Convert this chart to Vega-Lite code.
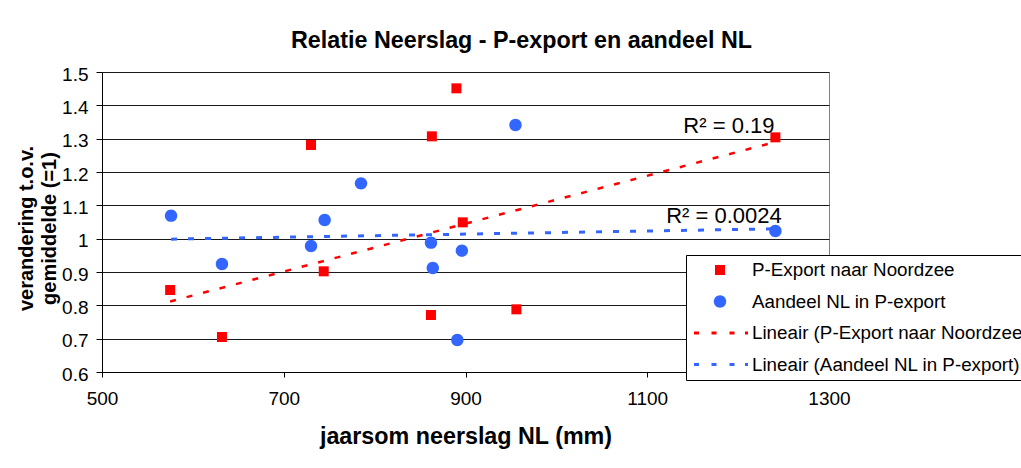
{
  "$schema": "https://vega.github.io/schema/vega-lite/v6.json",
  "width": 727,
  "height": 300,
  "autosize": {"type": "none"},
  "padding": {"left": 102, "top": 72, "right": 192, "bottom": 96},
  "background": "white",
  "config": {
    "font": "Liberation Sans",
    "view": {"stroke": "#808080", "strokeWidth": 1},
    "axis": {"domainColor": "#000000", "tickColor": "#000000", "labelColor": "#000000", "titleColor": "#000000", "labelFont": "Liberation Sans", "titleFont": "Liberation Sans"}
  },
  "title": {
    "text": "Relatie Neerslag - P-export en aandeel NL",
    "anchor": "middle",
    "frame": "group",
    "dx": 56,
    "offset": -6,
    "baseline": "alphabetic",
    "fontSize": 23.3,
    "fontWeight": "bold",
    "font": "Liberation Sans",
    "color": "#000000"
  },
  "datasets": {
    "pts": [
      {"reeks": "P-Export naar Noordzee", "neerslag": 575, "verandering": 0.846},
      {"reeks": "P-Export naar Noordzee", "neerslag": 632, "verandering": 0.705},
      {"reeks": "P-Export naar Noordzee", "neerslag": 730, "verandering": 1.281},
      {"reeks": "P-Export naar Noordzee", "neerslag": 744, "verandering": 0.902},
      {"reeks": "P-Export naar Noordzee", "neerslag": 785, "verandering": 0.571},
      {"reeks": "P-Export naar Noordzee", "neerslag": 862, "verandering": 0.771},
      {"reeks": "P-Export naar Noordzee", "neerslag": 863, "verandering": 1.307},
      {"reeks": "P-Export naar Noordzee", "neerslag": 890, "verandering": 1.451},
      {"reeks": "P-Export naar Noordzee", "neerslag": 897, "verandering": 1.049},
      {"reeks": "P-Export naar Noordzee", "neerslag": 956, "verandering": 0.788},
      {"reeks": "P-Export naar Noordzee", "neerslag": 1241, "verandering": 1.304},
      {"reeks": "Aandeel NL in P-export", "neerslag": 576, "verandering": 1.069},
      {"reeks": "Aandeel NL in P-export", "neerslag": 632, "verandering": 0.924},
      {"reeks": "Aandeel NL in P-export", "neerslag": 730, "verandering": 0.978},
      {"reeks": "Aandeel NL in P-export", "neerslag": 745, "verandering": 1.056},
      {"reeks": "Aandeel NL in P-export", "neerslag": 785, "verandering": 1.166},
      {"reeks": "Aandeel NL in P-export", "neerslag": 862, "verandering": 0.988},
      {"reeks": "Aandeel NL in P-export", "neerslag": 864, "verandering": 0.912},
      {"reeks": "Aandeel NL in P-export", "neerslag": 891, "verandering": 0.696},
      {"reeks": "Aandeel NL in P-export", "neerslag": 896, "verandering": 0.964},
      {"reeks": "Aandeel NL in P-export", "neerslag": 955, "verandering": 1.341},
      {"reeks": "Aandeel NL in P-export", "neerslag": 1241, "verandering": 1.023}
    ],
    "r2": [
      {"label": "R² = 0.19", "neerslag": 1240, "verandering": 1.317},
      {"label": "R² = 0.0024", "neerslag": 1248, "verandering": 1.047}
    ]
  },
  "layer": [
    {
      "data": {"name": "pts"},
      "mark": {"type": "point", "filled": true, "opacity": 1, "size": 400, "strokeWidth": 0, "clip": true},
      "encoding": {
        "x": {
          "field": "neerslag", "type": "quantitative",
          "scale": {"domain": [500, 1300], "nice": false, "zero": false},
          "axis": {
            "values": [500, 700, 900, 1100, 1300], "tickCount": 20, "format": "d", "grid": false,
            "tickSize": 5, "labelPadding": 12, "labelFontSize": 19, "labelFlush": false, "labelOverlap": false,
            "title": "jaarsom neerslag NL (mm)", "titleFontSize": 23.3, "titleFontWeight": "bold",
            "titleX": 363.5, "titleY": 71, "titleBaseline": "alphabetic", "titleAlign": "center"
          }
        },
        "y": {
          "field": "verandering", "type": "quantitative",
          "scale": {"domain": [0.6, 1.5], "nice": false, "zero": false},
          "axis": {
            "values": [0.6, 0.7, 0.8, 0.9, 1, 1.1, 1.2, 1.3, 1.4, 1.5], "tickCount": 20, "format": "~g",
            "grid": true, "gridColor": "#1a1a1a", "gridWidth": 1,
            "tickSize": 6, "labelPadding": 8, "labelOffset": 2, "labelFontSize": 19, "labelFlush": false, "labelOverlap": false,
            "title": ["verandering t.o.v.", "gemiddelde (=1)"], "titleFontSize": 20, "titleFontWeight": "bold",
            "titleX": -70, "titleY": 156, "titleAngle": 270, "titleBaseline": "alphabetic", "titleAlign": "center", "titleLineHeight": 23
          }
        },
        "color": {
          "field": "reeks", "type": "nominal",
          "scale": {
            "domain": ["P-Export naar Noordzee", "Aandeel NL in P-export", "Lineair (P-Export naar Noordzee)", "Lineair (Aandeel NL in P-export)"],
            "range": ["#FF0000", "#3366FF", "#FF0000", "#3366FF"]
          },
          "legend": {
            "title": null, "orient": "none", "legendX": 584, "legendY": 183, "padding": 5,
            "strokeColor": "#000000", "fillColor": "#FFFFFF", "symbolSize": 400, "symbolStrokeWidth": 0,
            "symbolOffset": 19, "labelOffset": 22, "labelFontSize": 18.8, "labelFont": "Liberation Sans",
            "labelColor": "#000000", "labelLimit": 1000, "rowPadding": 11.5, "cornerRadius": 0
          }
        },
        "shape": {
          "field": "reeks", "type": "nominal",
          "scale": {
            "domain": ["P-Export naar Noordzee", "Aandeel NL in P-export", "Lineair (P-Export naar Noordzee)", "Lineair (Aandeel NL in P-export)"],
            "range": [
              "M-0.5,-0.5H0.5V0.5H-0.5Z",
              "M0.62,0A0.62,0.62,0,1,1,-0.62,0A0.62,0.62,0,1,1,0.62,0Z",
              "M-2.6,-0.15H-2.1V0.15H-2.6Z M-0.85,-0.15H-0.35V0.15H-0.85Z M0.95,-0.15H1.45V0.15H0.95Z M2.5,-0.15H2.8V0.15H2.5Z",
              "M-2.6,-0.15H-2.1V0.15H-2.6Z M-0.85,-0.15H-0.35V0.15H-0.85Z M0.95,-0.15H1.45V0.15H0.95Z M2.5,-0.15H2.8V0.15H2.5Z"
            ]
          },
          "legend": {
            "title": null, "orient": "none", "legendX": 584, "legendY": 183, "padding": 5,
            "strokeColor": "#000000", "fillColor": "#FFFFFF", "symbolSize": 400, "symbolStrokeWidth": 0,
            "symbolOffset": 19, "labelOffset": 22, "labelFontSize": 18.8, "labelFont": "Liberation Sans",
            "labelColor": "#000000", "labelLimit": 1000, "rowPadding": 11.5, "cornerRadius": 0
          }
        }
      }
    },
    {
      "data": {"name": "pts"},
      "transform": [
        {"filter": "datum.reeks === 'P-Export naar Noordzee'"},
        {"regression": "verandering", "on": "neerslag"}
      ],
      "mark": {"type": "line", "color": "#FF0000", "strokeWidth": 2.5, "strokeDash": [6, 11], "clip": true},
      "encoding": {
        "x": {"field": "neerslag", "type": "quantitative"},
        "y": {"field": "verandering", "type": "quantitative"}
      }
    },
    {
      "data": {"name": "pts"},
      "transform": [
        {"filter": "datum.reeks === 'Aandeel NL in P-export'"},
        {"regression": "verandering", "on": "neerslag"}
      ],
      "mark": {"type": "line", "color": "#3366FF", "strokeWidth": 3, "strokeDash": [6, 11], "clip": true},
      "encoding": {
        "x": {"field": "neerslag", "type": "quantitative"},
        "y": {"field": "verandering", "type": "quantitative"}
      }
    },
    {
      "data": {"name": "r2"},
      "mark": {"type": "text", "align": "right", "baseline": "alphabetic", "fontSize": 22, "font": "Liberation Sans", "color": "#000000"},
      "encoding": {
        "x": {"field": "neerslag", "type": "quantitative"},
        "y": {"field": "verandering", "type": "quantitative"},
        "text": {"field": "label"}
      }
    }
  ]
}
